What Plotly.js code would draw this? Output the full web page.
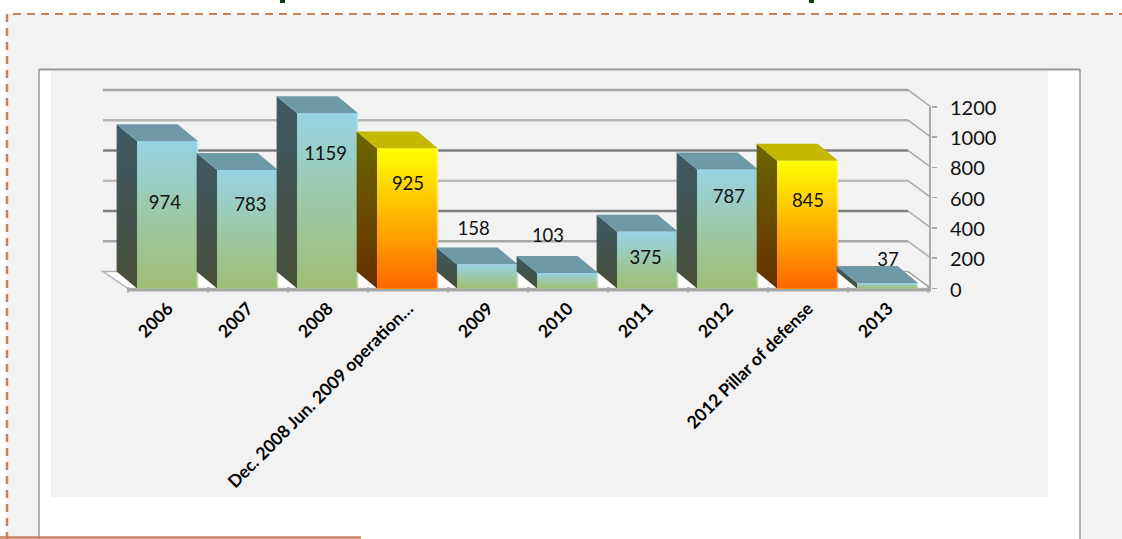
<!DOCTYPE html>
<html>
<head>
<meta charset="utf-8">
<script src="https://cdn.plot.ly/plotly-3.0.1.min.js"></script>
<style>html,body{margin:0;padding:0;background:#fff}#chart{width:1122px;height:539px}</style>
</head>
<body>
<div id="chart"></div>
<script>
var categories = ["2006","2007","2008","Dec. 2008 Jun. 2009 operation…","2009","2010","2011","2012","2012 Pillar of defense","2013"];
var values = [974,783,1159,925,158,103,375,787,845,37];
var highlighted = ["Dec. 2008 Jun. 2009 operation…","2012 Pillar of defense"];
var yTicks = [0,200,400,600,800,1000,1200];
// where Excel left each data label
var labelHeights = [553,546,883,679,381,335,190,593,566,176];
var labelShifts = [-0.04,0.03,-0.03,0,-0.18,-0.25,-0.03,0.01,0,0];

var W = 1122, H = 539;
var plot = {l:100, r:931, t:88, b:293};
var pxPerUnit = 0.1513, zeroPx = 288.5, slot = 80, firstCentrePx = 168;
var xVal = function(px){ return (px - firstCentrePx) / slot; };
var yVal = function(px){ return (zeroPx - px) / pxPerUnit; };
var px = function(v){ return (v - plot.l) / (plot.r - plot.l); };
var py = function(v){ return (plot.b - v) / (plot.b - plot.t); };

var depthX = 20.5 / slot, depthY = 17 / pxPerUnit, barW = 61 / slot, barShift = -0.005, edgeW = 1.5 / slot;
var idx = categories.map(function(c, i){ return i; });

var blue = {front:[[0,"#9FBE74"],[0.5,"#9DC8A8"],[1,"#96D3E5"]], side:[[0,"#474F38"],[1,"#3E5966"]], top:"#6F99A7"};
var gold = {front:[[0,"#FF6600"],[0.5,"#FFB400"],[1,"#FFFF00"]], side:[[0,"#663000"],[1,"#6B6600"]], top:"#C4B800"};

var traces = [{
  type:"bar", x:idx, y:values, width:barW, offset:-barW/2+barShift, hoverinfo:"x+y",
  marker:{color:categories.map(function(c){ return highlighted.indexOf(c)>=0 ? "#FFB400" : "#9DC8A8"; }), line:{width:0}},
  showlegend:false
}];

function poly(xs, ys, fill){
  var t = {type:"scatter", mode:"none", x:xs, y:ys, fill:"toself", hoverinfo:"skip", showlegend:false};
  if (typeof fill === "string") t.fillcolor = fill;
  else t.fillgradient = {type:"vertical", colorscale:fill.scale, start:fill.start, stop:fill.stop};
  return t;
}
idx.forEach(function(i){
  var v = values[i], pal = highlighted.indexOf(categories[i])>=0 ? gold : blue;
  var a = i + barShift - barW/2, b = a + barW;
  traces.push(poly([a-depthX,a,a,a-depthX,a-depthX],[depthY,0,v,v+depthY,depthY],{scale:pal.side,start:0,stop:v+depthY}));
  traces.push(poly([a,b,b-depthX,a-depthX,a],[v,v,v+depthY,v+depthY,v],pal.top));
  traces.push(poly([a,b,b,a,a],[0,0,v,v,0],{scale:pal.front,start:0,stop:v}));
  traces.push(poly([b-edgeW,b,b,b-edgeW,b-edgeW],[0,0,v,v,0],"rgba(255,255,255,0.4)"));
});
traces.push({
  type:"scatter", mode:"text", cliponaxis:false, hoverinfo:"skip", showlegend:false,
  x:idx.map(function(i){ return i + labelShifts[i]; }), y:labelHeights,
  text:values.map(String), textposition:"middle center",
  textfont:{family:"Lato, 'Open Sans', sans-serif", size:18.5, color:"#111"}
});

var shapes = [];
function rect(x0,y0,x1,y1,fill){
  shapes.push({type:"rect", xref:"paper", yref:"paper", layer:"below", x0:px(x0), x1:px(x1), y0:py(y0), y1:py(y1), fillcolor:fill, line:{width:0}});
}
function pline(x0,y0,x1,y1,color,w,dash){
  shapes.push({type:"line", xref:"paper", yref:"paper", layer:"below", x0:px(x0), x1:px(x1), y0:py(y0), y1:py(y1), line:{color:color,width:w,dash:dash||"solid"}});
}
// page furniture
rect(7,14,W,H,"#F2F2F2");
rect(39,69,1080,H,"#FFFFFF");
rect(51,71,1048,497,"#F2F2F2");
pline(39,69.5,1080,69.5,"#999999",2);
pline(39,69,39,H,"#999999",1.5);
pline(1080,69,1080,H,"#999999",1.5);
pline(13,14,W,14,"#CC7F5C",2,"8px 6px");
pline(7,14,7,H,"#CC7F5C",2.5,"8px 6px");
pline(0,537.5,361,537.5,"#C9805F",2.5);
rect(280,0,285,3,"#0B3D12");
rect(809,0,814,3,"#0B3D12");

// the 3-D wall and floor, in axis units
var backLeft = xVal(103), backRight = xVal(908), frontLeft = xVal(128), frontRight = xVal(931);
function dline(x0,y0,x1,y1,color,w){
  shapes.push({type:"line", xref:"x", yref:"y", layer:"below", x0:x0, x1:x1, y0:y0, y1:y1, line:{color:color,width:w}});
}
shapes.push({type:"path", xref:"x", yref:"y", layer:"below",
  path:"M"+backLeft+","+depthY+" L"+backRight+","+depthY+" L"+frontRight+",0 L"+frontLeft+",0 Z",
  fillcolor:"#FFFFFF", line:{color:"#B0B0B0",width:1.5}});
var gridColors = ["#B0B0B0","#A8A8A8","#808080","#BBBBBB","#808080","#B5B5B5","#A3A3A3"];
yTicks.forEach(function(t,k){
  if (t>0) dline(backLeft,t+depthY,backRight,t+depthY,gridColors[k],2.5);
  dline(backRight,t+depthY,frontRight,t,"#A8A8A8",1.5);
});
// value axis line and category axis line with ticks at the slot boundaries
dline(frontRight-0.005,0,frontRight-0.005,1200,"#A6A6A6",3);
dline(frontLeft,yVal(290),frontRight,yVal(290),"#A6A6A6",3);
idx.concat([categories.length]).forEach(function(i){
  dline(i-0.5,yVal(287),i-0.5,yVal(293),"#A6A6A6",1.5);
});

var layout = {
  width:W, height:H, showlegend:false, bargap:0,
  paper_bgcolor:"#FFFFFF", plot_bgcolor:"rgba(0,0,0,0)",
  margin:{l:plot.l, r:W-plot.r, t:plot.t, b:H-plot.b, pad:0},
  font:{family:"Lato, 'Open Sans', sans-serif", color:"#111"},
  xaxis:{type:"linear", range:[xVal(plot.l), xVal(plot.r)], tickmode:"array", tickvals:idx, ticktext:categories,
    tickangle:-45, ticks:"", showgrid:false, zeroline:false, showline:false, ticklabelstandoff:1,
    tickfont:{family:"Lato, sans-serif", size:17.5, color:"#000", weight:700}, automargin:false},
  yaxis:{range:[yVal(plot.b), yVal(plot.t)], side:"right", tickmode:"array", tickvals:yTicks, ticktext:yTicks.map(String),
    ticks:"outside", ticklen:5, tickcolor:"#A6A6A6", tickwidth:1.5, ticklabelstandoff:9, ticklabelshift:1,
    showgrid:false, zeroline:false, showline:false,
    tickfont:{family:"Lato, sans-serif", size:20, color:"#111"}, automargin:false},
  shapes:shapes
};
Plotly.newPlot("chart", traces, layout, {displayModeBar:false, staticPlot:true});
</script>
</body>
</html>
